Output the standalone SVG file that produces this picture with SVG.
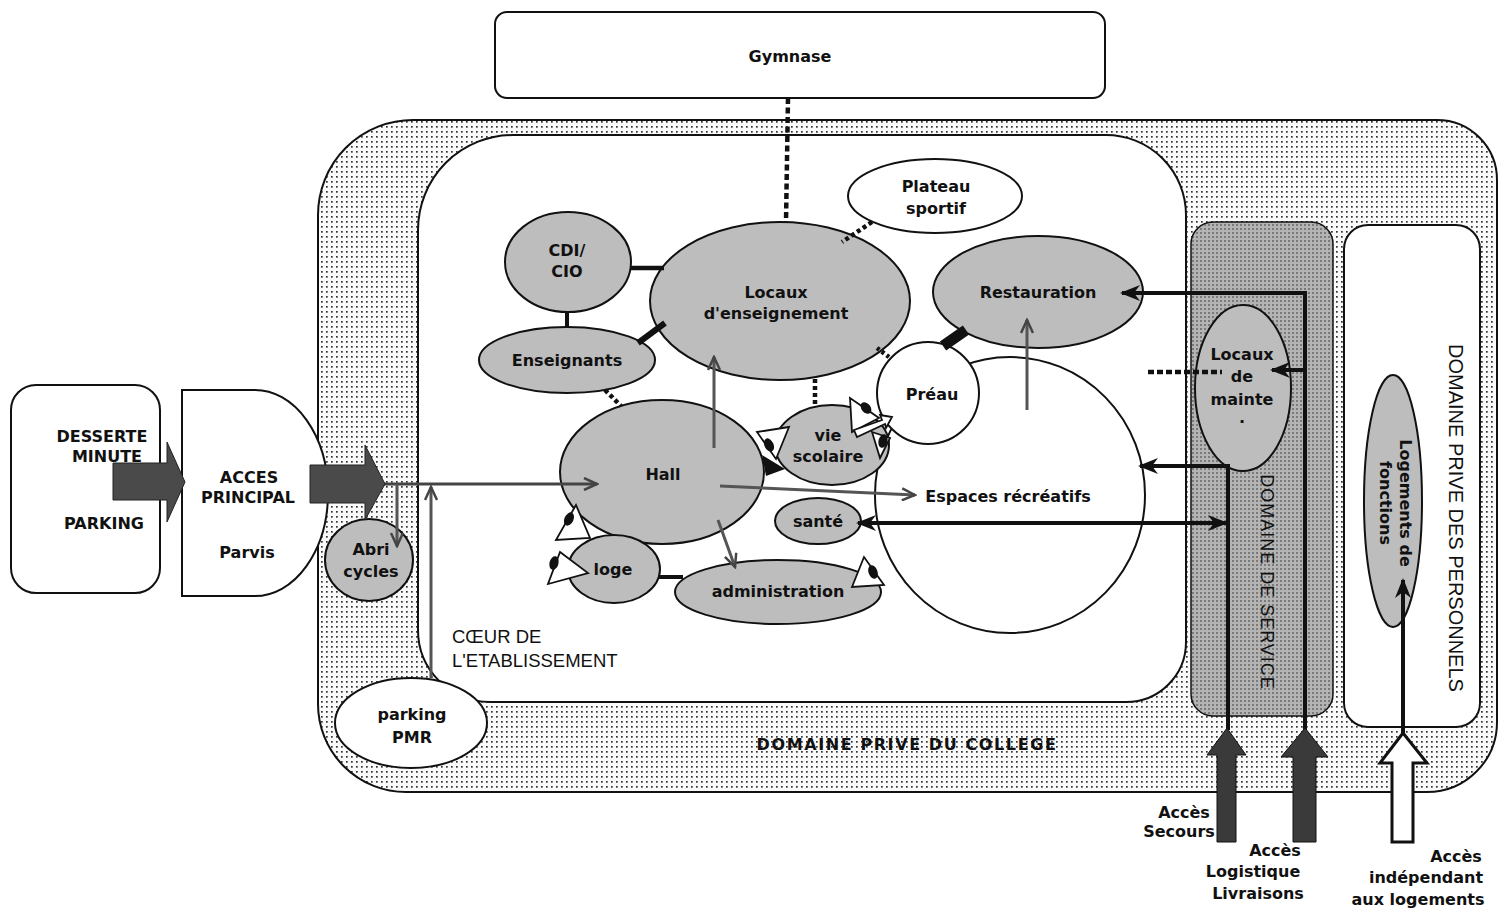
<svg xmlns="http://www.w3.org/2000/svg" width="1501" height="911" viewBox="0 0 1501 911">
<defs>
<pattern id="dots" width="5" height="5" patternUnits="userSpaceOnUse"><rect width="5" height="5" fill="#fafafa"/><rect x="1" y="1" width="1.7" height="1.7" fill="#333"/></pattern>
<pattern id="svc" width="4" height="4" patternUnits="userSpaceOnUse"><rect width="4" height="4" fill="#b4b4b4"/><rect x="0" y="0" width="2" height="2" fill="#7a7a7a"/></pattern>
<marker id="ab" viewBox="0 0 20 16" refX="18" refY="8" markerWidth="20" markerHeight="16" markerUnits="userSpaceOnUse" orient="auto-start-reverse"><path d="M0,0 L20,8 L0,16 L6,8 Z" fill="#111"/></marker>
<marker id="ag" viewBox="0 0 16 14" refX="14" refY="7" markerWidth="16" markerHeight="14" markerUnits="userSpaceOnUse" orient="auto"><path d="M1,1 L14,7 L1,13" fill="none" stroke="#444" stroke-width="2.5"/></marker>
</defs>
<style>
.t{font-family:"DejaVu Sans",Verdana,sans-serif;font-weight:bold;font-size:16px;text-anchor:middle;fill:#111}
.a{font-family:"Liberation Sans",Arial,sans-serif;font-size:18.5px;fill:#111}
.g{fill:#bdbdbd;stroke:#111;stroke-width:2}
.w{fill:#fff;stroke:#111;stroke-width:2}
.sl{stroke:#111;fill:none}
.dt{stroke:#111;fill:none;stroke-width:4.5;stroke-dasharray:5 3}
.gr{stroke:#555;stroke-width:3;fill:none;marker-end:url(#ag)}
.bk{stroke:#111;stroke-width:4;fill:none;marker-end:url(#ab)}
.door{fill:#fff;stroke:#111;stroke-width:1.8}
</style>
<rect width="1501" height="911" fill="#fff"/>

<g id="domaine-college">
<path d="M318,215 A95,95 0 0 1 413,120 H1437 A60,60 0 0 1 1497,180 V722 A70,70 0 0 1 1427,792 H406 A88,88 0 0 1 318,704 Z" fill="url(#dots)" stroke="#111" stroke-width="2"/>
<text class="t" x="907" y="750" style="letter-spacing:1.6px">DOMAINE PRIVE DU COLLEGE</text>
</g>
<g id="coeur">
<path d="M418,230 A95,95 0 0 1 513,135 H1106 A80,80 0 0 1 1186,215 V642 A60,60 0 0 1 1126,702 H490 A72,72 0 0 1 418,630 Z" fill="#fff" stroke="#111" stroke-width="2"/>
<text class="a" x="452" y="643">CŒUR DE</text>
<text class="a" x="452" y="667">L'ETABLISSEMENT</text>
</g>
<g id="domaine-service">
<rect x="1191" y="222" width="142" height="494" rx="22" fill="url(#svc)" stroke="#111" stroke-width="1.5"/>
<text class="a" transform="translate(1267,582) rotate(90)" text-anchor="middle" dominant-baseline="central" style="font-size:18px;letter-spacing:1px">DOMAINE DE SERVICE</text>
</g>
<g id="domaine-personnels">
<rect x="1344" y="225" width="136" height="502" rx="24" fill="#fff" stroke="#111" stroke-width="2"/>
<text class="a" transform="translate(1456,518) rotate(90)" text-anchor="middle" dominant-baseline="central" style="font-size:20px">DOMAINE PRIVE DES PERSONNELS</text>
</g>

<g id="gymnase">
<rect x="495" y="12" width="610" height="86" rx="12" class="w"/>
<text class="t" x="790" y="62">Gymnase</text>
</g>
<g id="desserte">
<rect x="11" y="385" width="149" height="208" rx="25" class="w"/>
<text class="t" x="102" y="442">DESSERTE</text>
<text class="t" x="107" y="462">MINUTE</text>
<text class="t" x="104" y="529">PARKING</text>
</g>
<g id="acces-principal">
<path d="M182,390 H255 A73,103 0 0 1 255,596 H182 Z" class="w"/>
<text class="t" x="249" y="483">ACCES</text>
<text class="t" x="248" y="503">PRINCIPAL</text>
<text class="t" x="247" y="558">Parvis</text>
</g>
<g id="espaces-recreatifs">
<ellipse cx="1010" cy="495" rx="135" ry="138" class="w"/>
<text class="t" x="1008" y="502">Espaces récréatifs</text>
</g>
<g id="abri-cycles">
<ellipse cx="369" cy="560" rx="44" ry="41" class="g"/>
<text class="t" x="371" y="555">Abri</text>
<text class="t" x="371" y="577">cycles</text>
</g>
<g id="parking-pmr">
<ellipse cx="411" cy="723" rx="76" ry="45" class="w"/>
<text class="t" x="412" y="720">parking</text>
<text class="t" x="412" y="743">PMR</text>
</g>
<g id="cdi">
<ellipse cx="568" cy="262" rx="63" ry="50" class="g"/>
<text class="t" x="567" y="256">CDI/</text>
<text class="t" x="567" y="277">CIO</text>
</g>
<g id="locaux-enseignement">
<ellipse cx="780" cy="301" rx="130" ry="79" class="g"/>
<text class="t" x="776" y="298">Locaux</text>
<text class="t" x="776" y="319">d'enseignement</text>
</g>
<g id="enseignants">
<ellipse cx="567" cy="360" rx="88" ry="33" class="g"/>
<text class="t" x="567" y="366">Enseignants</text>
</g>
<g id="plateau-sportif">
<ellipse cx="935" cy="196" rx="87" ry="37" class="w"/>
<text class="t" x="936" y="192">Plateau</text>
<text class="t" x="936" y="214">sportif</text>
</g>
<g id="restauration">
<ellipse cx="1038" cy="292" rx="105" ry="56" class="g"/>
<text class="t" x="1038" y="298">Restauration</text>
</g>
<g id="preau">
<circle cx="928" cy="393" r="51" class="w"/>
<text class="t" x="932" y="400">Préau</text>
</g>
<g id="hall">
<ellipse cx="662" cy="472" rx="102" ry="72" class="g"/>
<text class="t" x="663" y="480">Hall</text>
</g>
<g id="vie-scolaire">
<ellipse cx="832" cy="445" rx="57" ry="40" class="g"/>
<text class="t" x="828" y="441">vie</text>
<text class="t" x="828" y="462">scolaire</text>
</g>
<g id="sante">
<ellipse cx="818" cy="521" rx="43" ry="23" class="g"/>
<text class="t" x="818" y="527">santé</text>
</g>
<g id="loge">
<ellipse cx="614" cy="569" rx="46" ry="34" class="g"/>
<text class="t" x="613" y="575">loge</text>
</g>
<g id="administration">
<ellipse cx="778" cy="592" rx="103" ry="32" class="g"/>
<text class="t" x="778" y="597">administration</text>
</g>
<g id="locaux-maintenance">
<ellipse cx="1243" cy="388" rx="48" ry="83" class="g"/>
<text class="t" x="1242" y="360">Locaux</text>
<text class="t" x="1242" y="382">de</text>
<text class="t" x="1242" y="405">mainte</text>
<text class="t" x="1242" y="423">.</text>
</g>
<g id="logements">
<ellipse cx="1393" cy="501" rx="29" ry="126" class="g"/>
<text class="t" transform="translate(1395,503) rotate(90)"><tspan x="0" y="-5">Logements de</tspan><tspan x="0" y="15">fonctions</tspan></text>
</g>

<g id="connectors">
<line x1="788" y1="98" x2="786" y2="222" class="dt" style="stroke-dasharray:6 3.5"/>
<line x1="872" y1="222" x2="842" y2="242" class="dt" style="stroke-dasharray:4 3"/>
<line x1="630" y1="268" x2="664" y2="268" class="sl" stroke-width="4.5"/>
<line x1="567" y1="311" x2="567" y2="328" class="sl" stroke-width="4"/>
<line x1="638" y1="343" x2="665" y2="323" class="sl" stroke-width="6"/>
<line x1="605" y1="390" x2="621" y2="406" class="dt" style="stroke-dasharray:4 3"/>
<line x1="815" y1="379" x2="815" y2="406" class="dt" style="stroke-dasharray:4 3"/>
<line x1="877" y1="348" x2="889" y2="357" class="dt" style="stroke-dasharray:3 3"/>
<line x1="943" y1="346" x2="966" y2="330" class="sl" stroke-width="11"/>
<polygon points="762,455 785,469 766,476" fill="#111"/>
<line x1="658" y1="577" x2="683" y2="577" class="sl" stroke-width="4"/>
<line x1="1148" y1="372" x2="1222" y2="372" class="dt" style="stroke-dasharray:6 3"/>

<line x1="714" y1="448" x2="714" y2="357" class="gr"/>
<line x1="1027" y1="410" x2="1027" y2="320" class="gr"/>
<line x1="720" y1="486" x2="915" y2="495" class="gr"/>
<line x1="718" y1="520" x2="735" y2="567" class="gr"/>
<line x1="383" y1="484" x2="597" y2="484" class="gr" style="stroke:#444"/>
<line x1="397" y1="484" x2="397" y2="546" class="gr"/>
<line x1="431" y1="678" x2="431" y2="487" class="gr"/>

<line x1="858" y1="523" x2="1226" y2="523" class="bk" style="marker-start:url(#ab)"/>
<polyline points="1228,730 1228,466 1140,466" class="bk"/>
<polyline points="1305,730 1305,293 1122,293" class="bk"/>
<line x1="1305" y1="370" x2="1272" y2="370" class="bk"/>
<line x1="1403" y1="735" x2="1403" y2="580" class="bk"/>

<polygon points="113,463 167,463 167,442 185,482 167,522 167,500 113,500" fill="#4a4a4a" stroke="#222" stroke-width="1"/>
<polygon points="310,465 365,465 365,445 385,484 365,520 365,503 310,503" fill="#4a4a4a" stroke="#222" stroke-width="1"/>
<polygon points="1217,842 1217,755 1207,755 1227,728 1246,755 1236,755 1236,842" fill="#3a3a3a" stroke="#111" stroke-width="1"/>
<polygon points="1293,842 1293,757 1281,757 1305,728 1328,757 1316,757 1316,842" fill="#3a3a3a" stroke="#111" stroke-width="1"/>
<polygon points="1392,842 1392,763 1380,763 1403,733 1427,763 1413,763 1413,842" fill="#fff" stroke="#111" stroke-width="3"/>

<g id="entrances">
<polygon points="757,432 789,427 776,459" class="door"/>
<ellipse cx="769" cy="445" rx="4.5" ry="7" fill="#111" transform="rotate(-25 769 445)"/>
<polygon points="850,398 852,432 879,418" class="door"/>
<ellipse cx="866" cy="408" rx="4.5" ry="6.5" fill="#111" transform="rotate(-40 866 408)"/>
<polygon points="854,430 882,420 880,415 892,417 886,428 885,424 857,437" class="door"/>
<polygon points="872,432 890,438 880,458" class="door"/>
<ellipse cx="883" cy="441" rx="4.5" ry="7" fill="#111" transform="rotate(15 883 441)"/>
<polygon points="576,505 556,540 590,538" class="door"/>
<ellipse cx="569" cy="519" rx="4.5" ry="7" fill="#111" transform="rotate(25 569 519)"/>
<polygon points="560,552 548,584 588,573" class="door"/>
<ellipse cx="554" cy="563" rx="4.5" ry="7" fill="#111" transform="rotate(15 554 563)"/>
<polygon points="852,587 864,557 884,585" class="door"/>
<ellipse cx="873" cy="572" rx="4.5" ry="7" fill="#111" transform="rotate(-20 873 572)"/>
</g>
</g>

<g id="labels-acces">
<text class="t" x="1184" y="818">Accès</text>
<text class="t" x="1179" y="837">Secours</text>
<text class="t" x="1275" y="856">Accès</text>
<text class="t" x="1253" y="877">Logistique</text>
<text class="t" x="1258" y="899">Livraisons</text>
<text class="t" x="1456" y="862">Accès</text>
<text class="t" x="1426" y="883">indépendant</text>
<text class="t" x="1418" y="905">aux logements</text>
</g>
</svg>
